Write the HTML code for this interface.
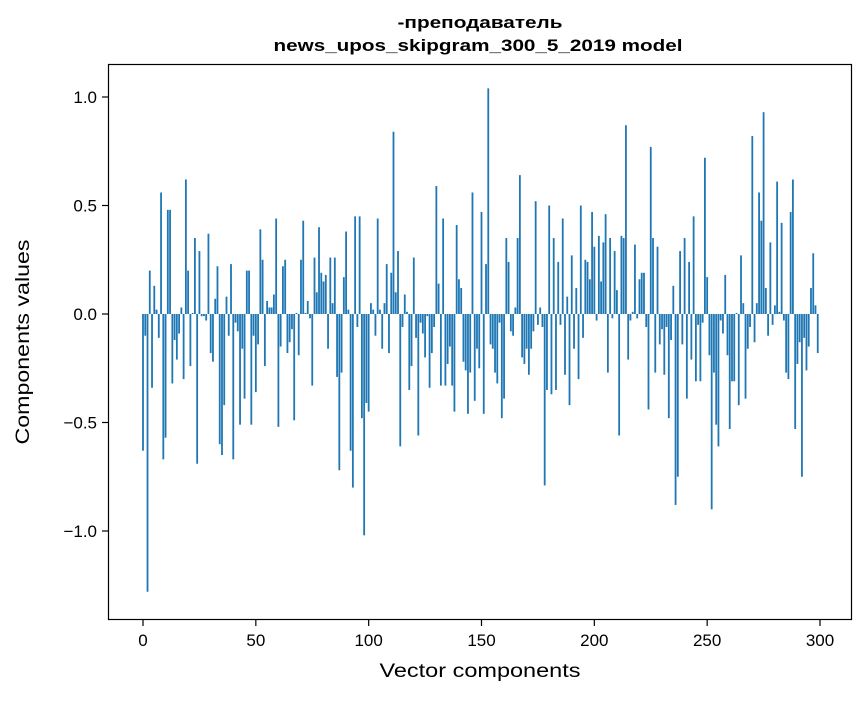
<!DOCTYPE html>
<html><head><meta charset="utf-8"><style>
body{margin:0;background:#fff;}
svg text{font-family:"Liberation Sans","DejaVu Sans",sans-serif;}
</style></head><body>
<svg id="chart" width="867" height="696" xmlns="http://www.w3.org/2000/svg">
<rect width="867" height="696" fill="#fff"/>
<text x="480" y="28" text-anchor="middle" font-size="17" font-weight="bold" textLength="165" lengthAdjust="spacingAndGlyphs">-преподаватель</text>
<text x="478" y="51" text-anchor="middle" font-size="17" font-weight="bold" textLength="409" lengthAdjust="spacingAndGlyphs">news_upos_skipgram_300_5_2019 model</text>
<g id="bars"></g>
<rect x="108.5" y="64.5" width="743" height="555" fill="none" stroke="#000" stroke-width="1.2"/>
<g id="axes"></g>
<text x="480" y="677" text-anchor="middle" font-size="19" textLength="201" lengthAdjust="spacingAndGlyphs">Vector components</text>
<text transform="translate(29,342) rotate(-90)" text-anchor="middle" font-size="19" textLength="205" lengthAdjust="spacingAndGlyphs">Components values</text>
</svg>
<script>
const values = [
-0.63,-0.1,-1.28,0.2,-0.34,0.13,0.02,-0.11,0.56,-0.67,
-0.57,0.48,0.48,-0.32,-0.12,-0.21,-0.09,0.03,-0.3,0.62,
0.2,-0.24,0.005,0.35,-0.69,0.29,-0.01,-0.01,-0.03,0.37,
-0.18,-0.22,0.07,0.22,-0.6,-0.65,-0.42,0.08,-0.1,0.23,
-0.67,-0.04,-0.08,-0.51,-0.16,-0.39,0.2,0.2,-0.51,-0.1,
-0.36,-0.14,0.39,0.25,-0.24,0.06,0.03,0.03,0.09,0.44,
-0.52,-0.15,0.22,0.25,-0.18,-0.13,-0.07,-0.49,0.005,-0.19,
0.25,0.43,0.005,0.06,-0.02,-0.33,0.26,0.1,0.4,0.19,
0.15,0.18,-0.16,0.26,0.05,0.26,-0.29,-0.72,-0.27,0.17,
0.38,0.02,-0.63,-0.8,0.45,-0.06,0.45,-0.48,-1.02,-0.41,
-0.45,0.05,0.02,-0.1,0.44,0.02,-0.16,0.05,0.23,-0.18,
0.19,0.84,0.1,0.29,-0.61,-0.06,0.09,0.01,-0.35,-0.24,
0.26,-0.11,-0.56,-0.04,-0.09,-0.2,-0.01,-0.34,-0.18,-0.06,
0.59,0.14,-0.33,0.44,-0.33,-0.23,-0.15,-0.33,-0.45,0.41,
0.16,0.12,-0.22,-0.26,-0.46,-0.27,0.56,-0.4,-0.16,-0.25,
0.47,-0.46,0.23,1.04,-0.14,-0.16,-0.27,-0.32,-0.04,-0.48,
-0.39,0.35,0.24,-0.08,-0.1,0.03,0.35,0.64,-0.2,-0.23,
-0.16,-0.28,-0.16,-0.08,0.52,-0.05,0.03,-0.06,-0.79,-0.35,
0.5,-0.37,0.35,-0.35,0.24,-0.05,0.44,-0.28,0.08,-0.42,
0.27,-0.16,0.12,-0.3,0.5,-0.11,0.25,0.24,0.16,0.47,
0.31,-0.03,0.36,0.15,0.33,0.46,-0.27,0.35,-0.02,0.29,
0.11,-0.56,0.36,0.35,0.87,-0.21,-0.03,0.01,0.32,-0.02,
0.16,0.19,0.19,-0.06,-0.44,0.77,0.35,-0.27,0.31,-0.14,
-0.07,-0.28,-0.06,-0.48,-0.12,0.13,-0.88,-0.75,0.29,-0.14,
0.35,-0.39,0.24,-0.21,0.45,-0.31,-0.05,-0.31,-0.04,0.72,
0.17,-0.19,-0.9,-0.27,-0.51,-0.61,-0.03,-0.09,0.18,-0.19,
-0.53,-0.31,-0.31,0.005,-0.42,0.27,0.05,-0.39,-0.16,-0.06,
0.82,-0.13,0.05,0.56,0.43,0.93,0.12,-0.1,0.33,-0.05,
0.04,0.61,0.01,0.42,-0.03,-0.27,-0.3,0.47,0.62,-0.53,
-0.23,-0.13,-0.75,-0.11,-0.26,-0.15,0.12,0.28,0.04,-0.18
];
const xTicks = [0,50,100,150,200,250,300];
const yTicks = [1.0,0.5,0.0,-0.5,-1.0];
const yTickLabels = ["1.0","0.5","0.0","\u22120.5","\u22121.0"];

const NS="http://www.w3.org/2000/svg";
function xs(v){return 143+v*(677/300);}
function ys(v){return 314-v*217;}
const bars=document.getElementById('bars');
values.forEach((v,i)=>{
  const r=document.createElementNS(NS,'rect');
  const w=0.8*(677/300);
  r.setAttribute('x',xs(i)-w/2);
  r.setAttribute('width',w);
  r.setAttribute('y',Math.min(ys(v),ys(0)));
  r.setAttribute('height',Math.abs(ys(v)-ys(0)));
  r.setAttribute('fill','#1f77b4');
  
  
  bars.appendChild(r);
});
const axes=document.getElementById('axes');
xTicks.forEach(t=>{
  const l=document.createElementNS(NS,'line');
  l.setAttribute('x1',xs(t));l.setAttribute('x2',xs(t));
  l.setAttribute('y1',620);l.setAttribute('y2',626);
  l.setAttribute('stroke','#000');l.setAttribute('stroke-width','1.2');
  
  
  axes.appendChild(l);
  const tx=document.createElementNS(NS,'text');
  tx.setAttribute('x',xs(t));tx.setAttribute('y',646);
  tx.setAttribute('text-anchor','middle');tx.setAttribute('font-size','17');
  tx.textContent=t;
  
  
  axes.appendChild(tx);
});
yTicks.forEach((t,i)=>{
  const l=document.createElementNS(NS,'line');
  l.setAttribute('x1',102);l.setAttribute('x2',108);
  l.setAttribute('y1',ys(t));l.setAttribute('y2',ys(t));
  l.setAttribute('stroke','#000');l.setAttribute('stroke-width','1.2');
  
  
  axes.appendChild(l);
  const tx=document.createElementNS(NS,'text');
  tx.setAttribute('x',97);tx.setAttribute('y',ys(t)+6);
  tx.setAttribute('text-anchor','end');tx.setAttribute('font-size','17');
  tx.textContent=yTickLabels[i];
  
  
  axes.appendChild(tx);
});
</script>
</body></html>
